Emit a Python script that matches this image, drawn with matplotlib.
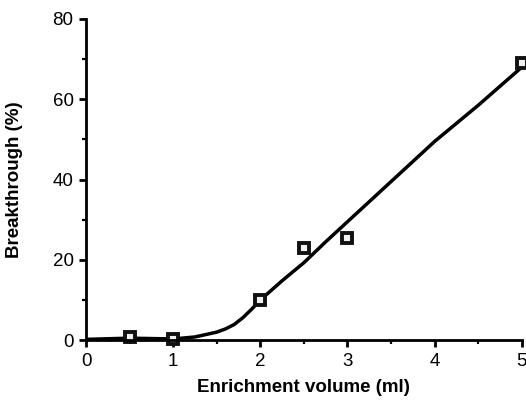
import matplotlib
matplotlib.use("Agg")
import matplotlib.pyplot as plt
from matplotlib.ticker import MultipleLocator

# measured data points
pts_x = [0.5, 1.0, 2.0, 2.5, 3.0, 5.0]
pts_y = [0.8, 0.2, 10.0, 23.0, 25.5, 69.0]

# fitted curve
curve_x = [0.0, 0.5, 1.0, 1.25, 1.5, 1.6, 1.7, 1.8, 1.9, 2.0, 2.25, 2.5, 2.75, 3.0, 3.5, 4.0, 4.5, 5.0]
curve_y = [0.2, 0.5, 0.3, 0.8, 2.0, 2.8, 3.9, 5.6, 7.7, 10.0, 14.8, 19.3, 24.5, 29.5, 39.5, 49.5, 58.5, 68.0]

x_ticks = [0, 1, 2, 3, 4, 5]
y_ticks = [0, 20, 40, 60, 80]

plt.rcParams['font.family'] = ['Liberation Sans', 'DejaVu Sans']

fig = plt.figure(figsize=(5.26, 4.04), dpi=100)
ax = fig.add_axes([0.1635, 0.158, 0.8285, 0.795])

ax.plot(curve_x, curve_y, color='black', lw=2.5, clip_on=False, solid_capstyle='butt', solid_joinstyle='round')
ax.plot(pts_x, pts_y, linestyle='none', marker='s', ms=7, mfc='#f0f0f0', mec='#111111', mew=2.8, clip_on=False)

ax.set_xlim(0, 5)
ax.set_ylim(0, 80)
ax.set_xticks(x_ticks)
ax.set_yticks(y_ticks)
ax.xaxis.set_minor_locator(MultipleLocator(0.5))
ax.yaxis.set_minor_locator(MultipleLocator(10))
for s in ['top', 'right']:
    ax.spines[s].set_visible(False)
for s in ['left', 'bottom']:
    ax.spines[s].set_linewidth(2.0)
ax.tick_params(axis='both', which='major', direction='out', length=5, width=2, labelsize=13.5, pad=4)
ax.tick_params(axis='both', which='minor', direction='out', length=3, width=1.6)

ax.set_xlabel('Enrichment volume (ml)', fontsize=13.5, fontweight='heavy', labelpad=7)
ax.set_ylabel('Breakthrough (%)', fontsize=13.5, fontweight='heavy', labelpad=21)

fig.savefig('out.png', dpi=100)
